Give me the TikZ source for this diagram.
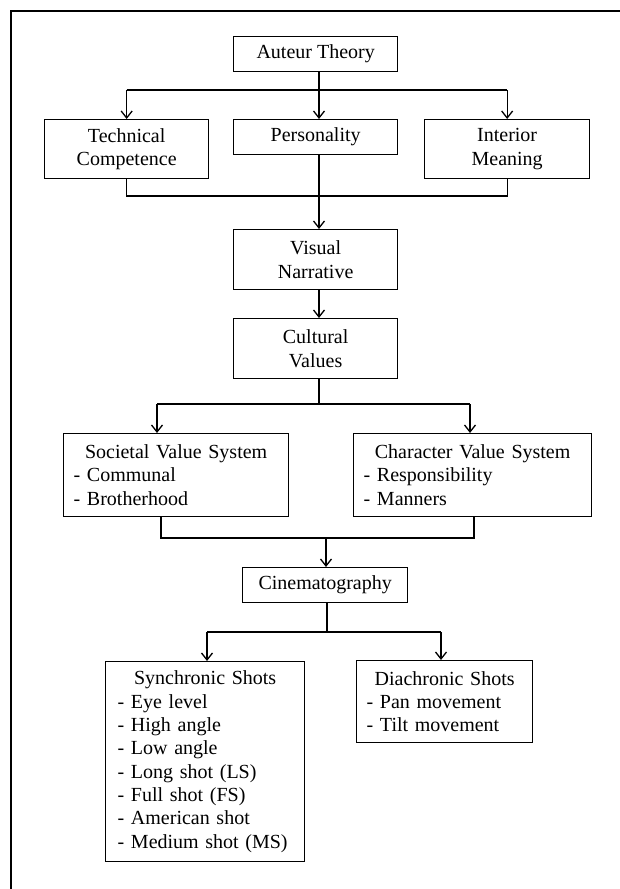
\documentclass[tikz,border=0pt]{standalone}
\usepackage{fontspec}
\setmainfont{Liberation Serif}
\usetikzlibrary{arrows.meta}
\begin{document}
\begin{tikzpicture}[x=1pt,y=-1pt,
  box/.style={draw, line width=1.3pt, rectangle, anchor=north west, inner sep=0pt,
    align=center, font=\fontsize{20}{23.3}\selectfont},
  listbox/.style={box, align=left, inner xsep=10pt},
  conn/.style={line width=1.3pt},
  arr/.style={conn, -{Straight Barb[length=7pt,width=11pt]}}]
\useasboundingbox (0,0) rectangle (619,889);
\fill[white] (0,0) rectangle (619,889);
\draw[line width=1.5pt] (11,11) rectangle (660,930);

\node[box, minimum width=164pt, minimum height=35pt] (auteur) at (233,36) {Auteur Theory};
\node[box, minimum width=164pt, minimum height=59pt] (tech) at (44,119) {Technical\\Competence};
\node[box, minimum width=164pt, minimum height=35pt] (pers) at (233,119) {Personality};
\node[box, minimum width=165pt, minimum height=59pt] (inter) at (424,119) {Interior\\Meaning};
\node[box, minimum width=164pt, minimum height=60pt] (visual) at (233,229) {Visual\\Narrative};
\node[box, minimum width=164pt, minimum height=60pt] (cultural) at (233,318) {Cultural\\Values};
\node[listbox, text width=205pt, minimum height=83pt] (societal) at (63,433)
  {\hfill Societal Value System\hfill\mbox{}\\- Communal\\- Brotherhood};
\node[listbox, text width=218pt, minimum height=83pt] (character) at (353,433)
  {\hfill Character Value System\hfill\mbox{}\\- Responsibility\\- Manners};
\node[box, minimum width=165pt, minimum height=35pt] (cinema) at (242,567) {Cinematography};
\node[listbox, text width=175pt, inner xsep=12pt, minimum height=200pt] (sync) at (105,661)
  {\hfill Synchronic Shots\hfill\mbox{}\\- Eye level\\- High angle\\- Low angle\\- Long shot (LS)\\- Full shot (FS)\\- American shot\\- Medium shot (MS)};
\node[listbox, text width=156pt, minimum height=82pt] (diac) at (356,660)
  {\hfill Diachronic Shots\hfill\mbox{}\\- Pan movement\\- Tilt movement};

% level 1
\coordinate (b1) at (319,90);
\draw[conn] (tech.north|-b1) -- (inter.north|-b1);
\draw[arr] (b1|-auteur.south) -- (b1|-pers.north);
\draw[arr] (tech.north|-b1) -- (tech.north);
\draw[arr] (inter.north|-b1) -- (inter.north);
% join
\coordinate (b2) at (319,196);
\draw[conn] (tech.south) -- (tech.south|-b2) -- (inter.south|-b2) -- (inter.south);
\draw[arr] (b2|-pers.south) -- (b2|-visual.north);
\draw[arr] (b2|-visual.south) -- (b2|-cultural.north);
% cultural split
\coordinate (b3) at (319,404);
\coordinate (s1) at (157,404);
\coordinate (s2) at (470,404);
\draw[conn] (b3|-cultural.south) -- (b3);
\draw[conn] (s1) -- (s2);
\draw[arr] (s1) -- (s1|-societal.north);
\draw[arr] (s2) -- (s2|-character.north);
% join to cinematography
\coordinate (m1) at (161,538);
\coordinate (m2) at (474,538);
\coordinate (m3) at (326,538);
\draw[conn] (m1|-societal.south) -- (m1) -- (m2) -- (m2|-character.south);
\draw[arr] (m3) -- (m3|-cinema.north);
% cinematography split
\coordinate (c0) at (327,632);
\coordinate (c1) at (207,632);
\coordinate (c2) at (441,632);
\draw[conn] (c0|-cinema.south) -- (c0);
\draw[conn] (c1) -- (c2);
\draw[arr] (c1) -- (c1|-sync.north);
\draw[arr] (c2) -- (c2|-diac.north);
\end{tikzpicture}
\end{document}
